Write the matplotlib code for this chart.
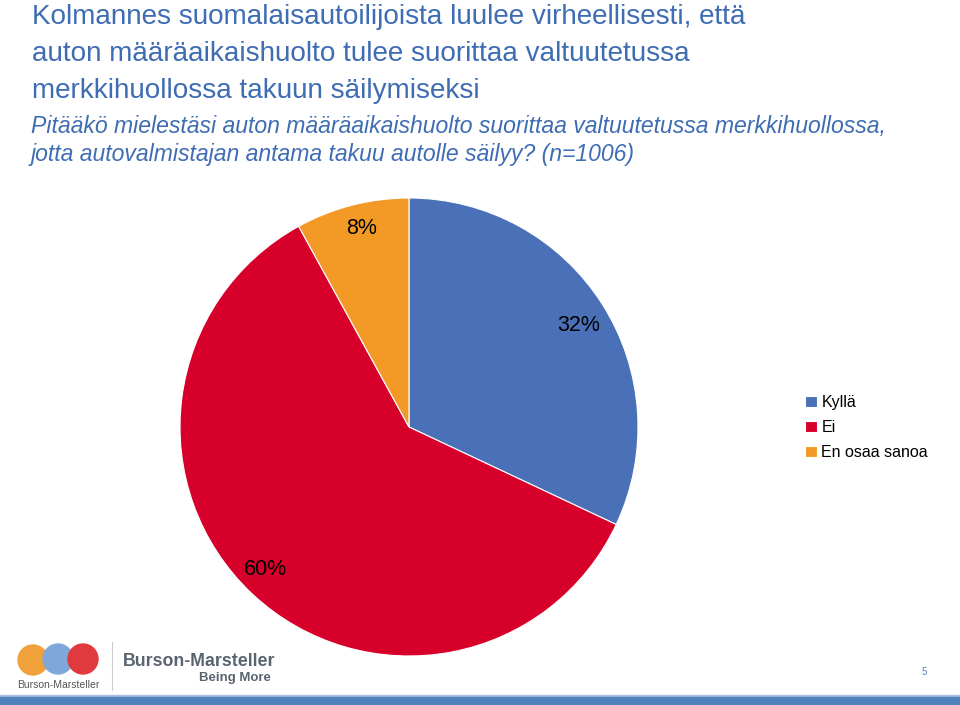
import numpy as np
import matplotlib.pyplot as plt
from matplotlib.patches import Circle, Rectangle

plt.rcParams['font.family'] = ['Liberation Sans', 'DejaVu Sans']

# data
labels = ['Kyllä', 'Ei', 'En osaa sanoa']
values = [32, 60, 8]
colors = ['#4A71B8', '#D7002B', '#F39A26']

title_lines = ['Kolmannes suomalaisautoilijoista luulee virheellisesti, että',
               'auton määräaikaishuolto tulee suorittaa valtuutetussa',
               'merkkihuollossa takuun säilymiseksi']
subtitle_lines = ['Pitääkö mielestäsi auton määräaikaishuolto suorittaa valtuutetussa merkkihuollossa,',
                  'jotta autovalmistajan antama takuu autolle säilyy? (n=1006)']

fig = plt.figure(figsize=(9.6, 7.05), dpi=100)
W, H = 960, 705

def fx(px):
    return px / W

def fy(py):
    return 1 - py / H

title_col = '#3F6DB3'
for i, t in enumerate(title_lines):
    fig.text(fx(32), fy(17 + i * 37), t, fontsize=20.1, color=title_col, va='center', ha='left')
for i, t in enumerate(subtitle_lines):
    fig.text(fx(31), fy(126 + i * 29), t, fontsize=16.6, color=title_col, style='italic',
             va='center', ha='left')

# pie
cx, cy, r = 409, 427, 229
ax = fig.add_axes([fx(cx - r), fy(cy + r), 2 * r / W, 2 * r / H])
wedges, _, autotexts = ax.pie(values, colors=colors, startangle=90, counterclock=False,
                              autopct='%d%%', pctdistance=0.88,
                              wedgeprops=dict(linewidth=0.8, edgecolor='white'),
                              textprops=dict(fontsize=15.5, color='black'))
# nudge labels (order: Kyllä, Ei, En osaa sanoa) to where they sit in the original
nudges = [(0.0, -0.03), (-0.025, 0.02), (0.01, 0.013)]
for t, (dx, dy) in zip(autotexts, nudges):
    x, y = t.get_position()
    t.set_position((x + dx, y + dy))
ax.set_xlim(-1, 1)
ax.set_ylim(-1, 1)
ax.set_aspect('equal')
ax.axis('off')

leg = fig.legend(wedges, labels, loc='upper left', bbox_to_anchor=(fx(791), fy(381)),
                 frameon=False, fontsize=11.5, handlelength=0.7, handleheight=0.7,
                 handletextpad=0.3, labelspacing=0.62)

# footer: logo, page number, bottom bar
deco = fig.add_axes([0, 0, 1, 1])
deco.set_xlim(0, W)
deco.set_ylim(H, 0)
deco.axis('off')
deco.add_patch(Circle((33, 660), 15, color='#F2A23A'))
deco.add_patch(Circle((58, 659), 15, color='#7FA7D9'))
deco.add_patch(Circle((83, 659), 15, color='#E03A3E'))
deco.text(58, 685, 'Burson-Marsteller', fontsize=7.5, color='#555555', ha='center', va='center')
deco.plot([112, 112], [642, 690], color='#cccccc', lw=0.8)
deco.text(123, 662, 'Burson-Marsteller', fontsize=12.8, weight='bold', color='#5a6470',
          ha='left', va='center')
deco.text(271, 678, 'Being More', fontsize=9.5, weight='bold', color='#5a6470',
          ha='right', va='center')
deco.text(924, 672, '5', fontsize=7, color='#5a7fb5', ha='center', va='center')
deco.add_patch(Rectangle((0, 695), W, 2, color='#A9C1E0'))
deco.add_patch(Rectangle((0, 697), W, 8, color='#4F81BD'))

fig.savefig('out.png', dpi=100)
